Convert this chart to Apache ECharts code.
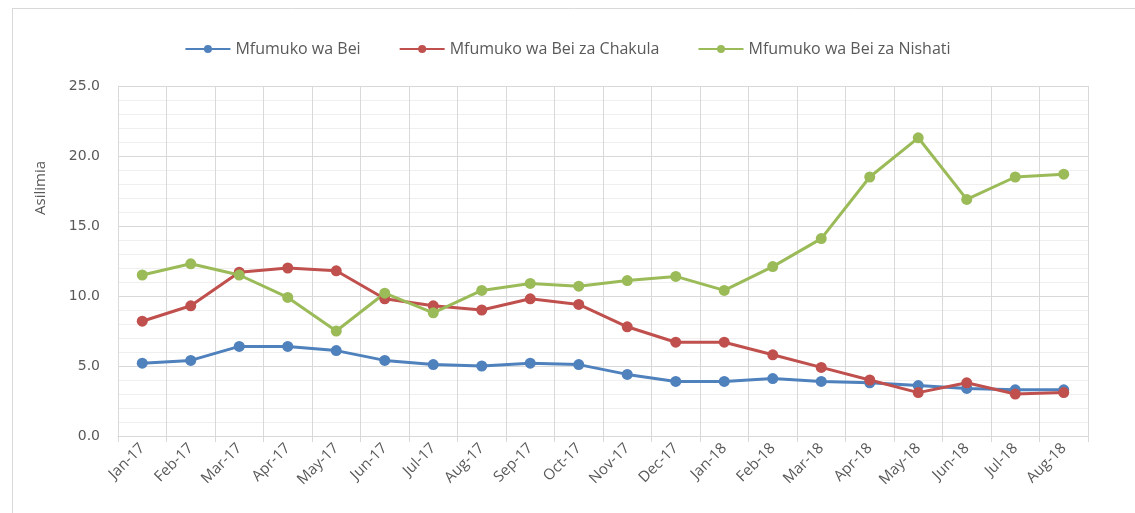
<!DOCTYPE html>
<html>
<head>
<meta charset="utf-8">
<script src="https://cdn.jsdelivr.net/npm/echarts@6/dist/echarts.min.js"></script>
<style>
html,body{margin:0;padding:0;background:#fff;}
#chart{width:1135px;height:513px;}
</style>
</head>
<body>
<div id="chart"></div>
<script>
var categories = ['Jan-17','Feb-17','Mar-17','Apr-17','May-17','Jun-17','Jul-17','Aug-17','Sep-17','Oct-17','Nov-17','Dec-17','Jan-18','Feb-18','Mar-18','Apr-18','May-18','Jun-18','Jul-18','Aug-18'];
var seriesNames = ['Mfumuko wa Bei','Mfumuko wa Bei za Chakula','Mfumuko wa Bei za Nishati'];
var bei = [5.2,5.4,6.4,6.4,6.1,5.4,5.1,5.0,5.2,5.1,4.4,3.9,3.9,4.1,3.9,3.8,3.6,3.4,3.3,3.3];
var chakula = [8.2,9.3,11.7,12.0,11.8,9.8,9.3,9.0,9.8,9.4,7.8,6.7,6.7,5.8,4.9,4.0,3.1,3.8,3.0,3.1];
var nishati = [11.5,12.3,11.5,9.9,7.5,10.2,8.8,10.4,10.9,10.7,11.1,11.4,10.4,12.1,14.1,18.5,21.3,16.9,18.5,18.7];
var colors = ['#4F81BD','#C0504D','#9BBB59'];

var chart = echarts.init(document.getElementById('chart'));
function mk(name, data, color){
  return {
    name: name, type: 'line', data: data,
    symbol: 'circle', symbolSize: 11,
    lineStyle: {width: 3, color: color},
    itemStyle: {color: color},
    emphasis: {disabled: true}
  };
}
chart.setOption({
  animation: false,
  color: colors,
  legend: {
    top: 36, left: 'center',
    itemWidth: 45, itemHeight: 10, itemGap: 38,
    textStyle: {color: '#595959', fontSize: 16, fontFamily: 'Open Sans'},
    data: seriesNames
  },
  grid: {left: 118, right: 47, top: 86, bottom: 77, containLabel: false},
  xAxis: {
    type: 'category', data: categories, boundaryGap: true,
    axisLine: {show: true, lineStyle: {color: '#d9d9d9', width: 1}},
    axisTick: {show: true, length: 6, lineStyle: {color: '#d9d9d9'}},
    splitLine: {show: true, lineStyle: {color: '#d9d9d9', width: 1}},
    axisLabel: {rotate: 45, color: '#595959', fontSize: 15, fontFamily: 'Open Sans', margin: 10, interval: 0}
  },
  yAxis: {
    type: 'value', min: 0, max: 25, interval: 5,
    axisLine: {show: true, lineStyle: {color: '#d9d9d9'}},
    axisTick: {show: false},
    axisLabel: {color: '#595959', fontSize: 14, fontFamily: 'DejaVu Sans', margin: 18,
      formatter: function(v){return v.toFixed(1);}},
    splitLine: {show: true, lineStyle: {color: '#d9d9d9', width: 1}},
    minorTick: {show: false, splitNumber: 5},
    minorSplitLine: {show: true, lineStyle: {color: '#efefef', width: 1}}
  },
  graphic: [
    {type: 'line', shape: {x1: 12.5, y1: 8, x2: 12.5, y2: 513}, style: {stroke: '#d9d9d9', lineWidth: 1}},
    {type: 'line', shape: {x1: 12, y1: 8.5, x2: 1135, y2: 8.5}, style: {stroke: '#d9d9d9', lineWidth: 1}},
    {type: 'text', x: 41, y: 188, rotation: Math.PI/2,
      style: {text: 'Asilimia', fill: '#595959', fontSize: 15, fontFamily: 'Liberation Sans Narrow, Open Sans', align: 'center', verticalAlign: 'middle'}}
  ],
  series: [mk(seriesNames[0], bei, colors[0]), mk(seriesNames[1], chakula, colors[1]), mk(seriesNames[2], nishati, colors[2])]
});
</script>
</body>
</html>
